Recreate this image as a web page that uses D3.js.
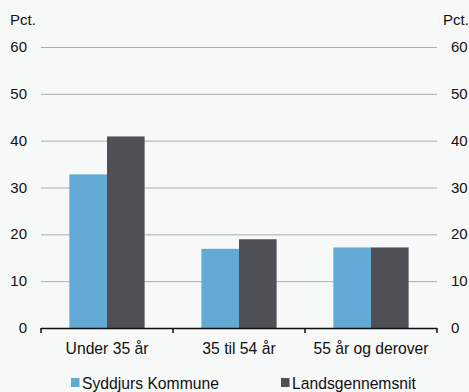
<!DOCTYPE html>
<html><head><meta charset="utf-8">
<script src="https://cdn.jsdelivr.net/npm/d3@7"></script>
<style>
html,body{margin:0;padding:0;background:#f7f8f8;}
svg{display:block;font-family:"Liberation Sans",Arial,sans-serif;}
</style></head>
<body>
<svg id="chart" width="469" height="392"></svg>
<script>
const categories = ["Under 35 år", "35 til 54 år", "55 år og derover"];
const seriesNames = ["Syddjurs Kommune", "Landsgennemsnit"];
const syddjurs = [32.8, 16.9, 17.2];
const lands = [40.9, 18.95, 17.2];
const yTicks = [0, 10, 20, 30, 40, 50, 60];
const colors = ["#62a9d6", "#4f5055"];

(function(){
const svg = d3.select("#chart");
const mLeft = 41, mRight = 437, mTop = 47, mBottom = 328;
const x0 = d3.scaleBand().domain(categories).range([mLeft, mRight]).paddingInner(0.43).paddingOuter(0.215);
const x1 = d3.scaleBand().domain(seriesNames).range([0, x0.bandwidth()]);
const y = d3.scaleLinear().domain([0, 60]).range([mBottom, mTop]);

// gridlines
svg.append("g").selectAll("line").data(yTicks.filter(d => d > 0)).join("line")
  .attr("x1", mLeft).attr("x2", mRight)
  .attr("y1", d => y(d) + 0.5).attr("y2", d => y(d) + 0.5)
  .attr("stroke", "#ababab").attr("stroke-width", 1);

// left and right tick labels
const lab = svg.append("g").attr("font-size", 15).attr("fill", "#111");
lab.selectAll("text.l").data(yTicks).join("text").attr("class", "l")
  .attr("x", 27).attr("y", d => y(d) + 5).attr("text-anchor", "end").text(d => d);
lab.selectAll("text.r").data(yTicks).join("text").attr("class", "r")
  .attr("x", 451).attr("y", d => y(d) + 5).attr("text-anchor", "start").text(d => d);
lab.append("text").attr("x", 10).attr("y", 25).text("Pct.");
lab.append("text").attr("x", 443).attr("y", 25).text("Pct.");

// bars
const data = categories.map((c, i) => ({c, vals: [syddjurs[i], lands[i]]}));
const g = svg.append("g").selectAll("g").data(data).join("g")
  .attr("transform", d => `translate(${x0(d.c)},0)`);
g.selectAll("rect").data(d => d.vals.map((v, j) => ({name: seriesNames[j], v, j}))).join("rect")
  .attr("x", d => x1(d.name)).attr("width", x1.bandwidth())
  .attr("y", d => y(d.v)).attr("height", d => y(0) - y(d.v))
  .attr("fill", d => colors[d.j]);

// x axis
const ax = svg.append("g").attr("transform", `translate(0,${mBottom})`);
ax.append("line").attr("x1", mLeft).attr("x2", mRight).attr("y1", 0.5).attr("y2", 0.5)
  .attr("stroke", "#111").attr("stroke-width", 1.5);
const boundaries = d3.range(categories.length + 1).map(i => mLeft + i * x0.step());
ax.selectAll("line.t").data(boundaries).join("line").attr("class", "t")
  .attr("x1", d => d).attr("x2", d => d).attr("y1", 0).attr("y2", 5)
  .attr("stroke", "#111").attr("stroke-width", 1.5);
ax.selectAll("text.c").data(categories).join("text").attr("class", "c")
  .attr("x", d => x0(d) + x0.bandwidth() / 2).attr("y", 25.5)
  .attr("text-anchor", "middle").attr("font-size", 15.7).attr("fill", "#111").text(d => d);

// legend
const legX = [71, 281];
const leg = svg.append("g").selectAll("g").data(seriesNames).join("g")
  .attr("transform", (d, i) => `translate(${legX[i]},378)`);
leg.append("rect").attr("width", 8.5).attr("height", 9).attr("fill", (d, i) => colors[i]);
leg.append("text").attr("x", 11).attr("y", 10.5).attr("font-size", 15.7).attr("fill", "#111").text(d => d);
})();
</script>
</body></html>
